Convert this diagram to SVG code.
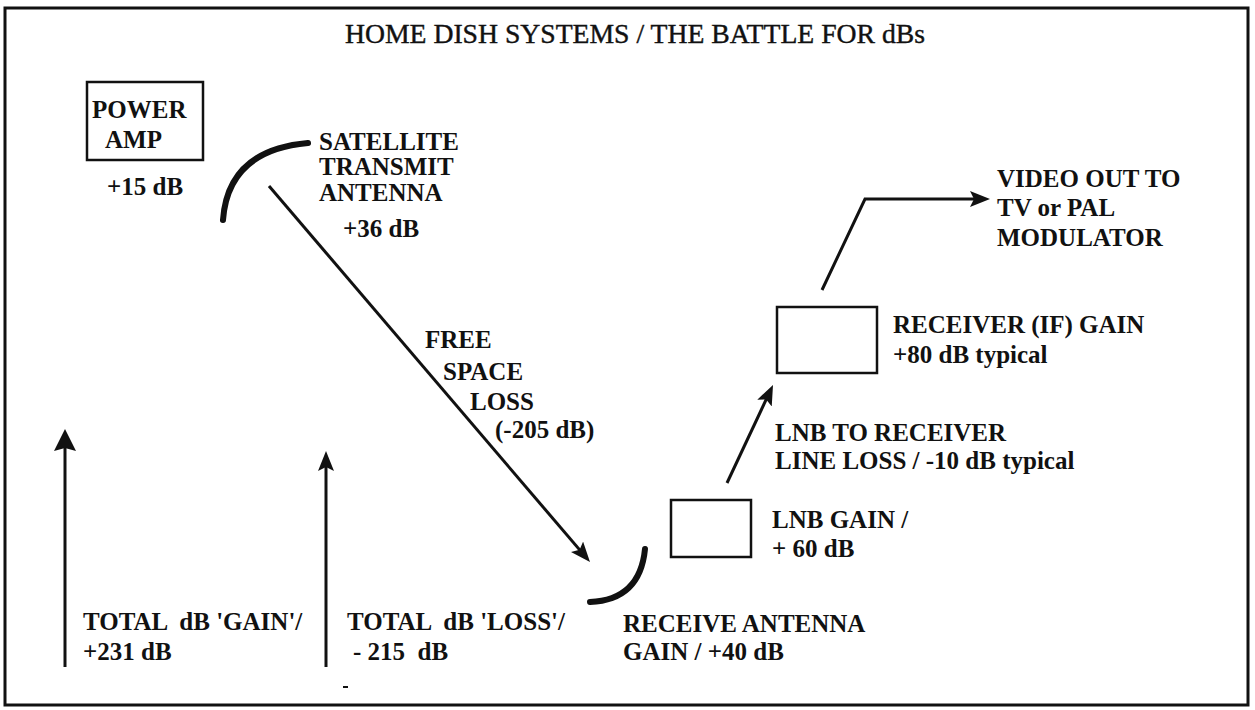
<svg xmlns="http://www.w3.org/2000/svg" width="1255" height="710" viewBox="0 0 1255 710">
<style>
text { font-family: "Liberation Serif", "Times New Roman", serif; font-size: 25px; font-weight: bold; fill: #111; white-space: pre; }
.title { font-size: 27px; font-weight: normal; stroke: #111; stroke-width: 0.4; }
.box { fill: #fff; stroke: #111; stroke-width: 2.5; }
.dish { fill: none; stroke: #111; stroke-width: 6; stroke-linecap: round; }
.conn { fill: none; stroke: #111; stroke-width: 3; stroke-linejoin: miter; }
</style>
<defs>
<marker id="arrow" viewBox="0 0 20 16" refX="12" refY="8" markerWidth="20" markerHeight="16" markerUnits="userSpaceOnUse" orient="auto">
<path d="M0,0 L20,8 L0,16 L4,8 Z" fill="#111"/>
</marker>
<marker id="arrowBig" viewBox="0 0 22 22" refX="12" refY="11" markerWidth="22" markerHeight="22" markerUnits="userSpaceOnUse" orient="auto">
<path d="M0,0 L22,11 L0,22 L3,11 Z" fill="#111"/>
</marker>
</defs>
<rect x="5" y="8" width="1243" height="697" fill="#fff" stroke="#111" stroke-width="3"/>
<g id="title"><text class="title" x="345" y="43" textLength="580" lengthAdjust="spacingAndGlyphs">HOME DISH SYSTEMS / THE BATTLE FOR dBs</text></g>
<g id="power-amp">
<rect class="box" x="87" y="82" width="116" height="78"/>
<text x="92" y="118">POWER</text>
<text x="105" y="148">AMP</text>
<text x="107" y="195">+15 dB</text>
</g>
<g id="transmit-antenna">
<path class="dish" d="M223,220 Q228,150 308,143"/>
<text x="319" y="150">SATELLITE</text>
<text x="319" y="175">TRANSMIT</text>
<text x="319" y="201">ANTENNA</text>
<text x="343" y="237">+36 dB</text>
</g>
<g id="free-space-loss">
<text x="425" y="348">FREE</text>
<text x="443" y="380">SPACE</text>
<text x="470" y="410">LOSS</text>
<text x="495" y="438">(-205 dB)</text>
</g>
<g id="receive-antenna">
<path class="dish" d="M645,549 Q640,600 590,602"/>
<text x="623" y="632">RECEIVE ANTENNA</text>
<text x="623" y="660">GAIN / +40 dB</text>
</g>
<g id="lnb">
<rect class="box" x="671" y="500" width="80" height="57"/>
<text x="772" y="528">LNB GAIN /</text>
<text x="772" y="557">+ 60 dB</text>
</g>
<g id="line-loss">
<text x="775" y="441">LNB TO RECEIVER</text>
<text x="775" y="469">LINE LOSS / -10 dB typical</text>
</g>
<g id="receiver">
<rect class="box" x="777" y="307" width="100" height="66"/>
<text x="893" y="333">RECEIVER (IF) GAIN</text>
<text x="893" y="363">+80 dB typical</text>
</g>
<g id="video-out">
<text x="997" y="187">VIDEO OUT TO</text>
<text x="997" y="216">TV or PAL</text>
<text x="997" y="246">MODULATOR</text>
</g>
<g id="total-gain">
<text x="83" y="630">TOTAL  dB 'GAIN'/</text>
<text x="83" y="660">+231 dB</text>
</g>
<g id="total-loss">
<text x="347" y="630">TOTAL  dB 'LOSS'/</text>
<text x="353" y="660">- 215  dB</text>
<line x1="343" y1="687" x2="348" y2="687" stroke="#111" stroke-width="2"/>
</g>
<g id="connectors">
<line class="conn" x1="269" y1="186" x2="584.8" y2="555.9" stroke-width="2.5" marker-end="url(#arrow)"/>
<line class="conn" x1="727" y1="483" x2="769.6" y2="392.2" marker-end="url(#arrow)"/>
<polyline class="conn" points="822,290 865,199 982,199" marker-end="url(#arrow)"/>
<line class="conn" x1="65" y1="667" x2="65" y2="439" stroke-width="4.5" marker-end="url(#arrowBig)"/>
<line class="conn" x1="326" y1="667" x2="326" y2="459" stroke-width="2.5" marker-end="url(#arrow)"/>
</g>
</svg>
